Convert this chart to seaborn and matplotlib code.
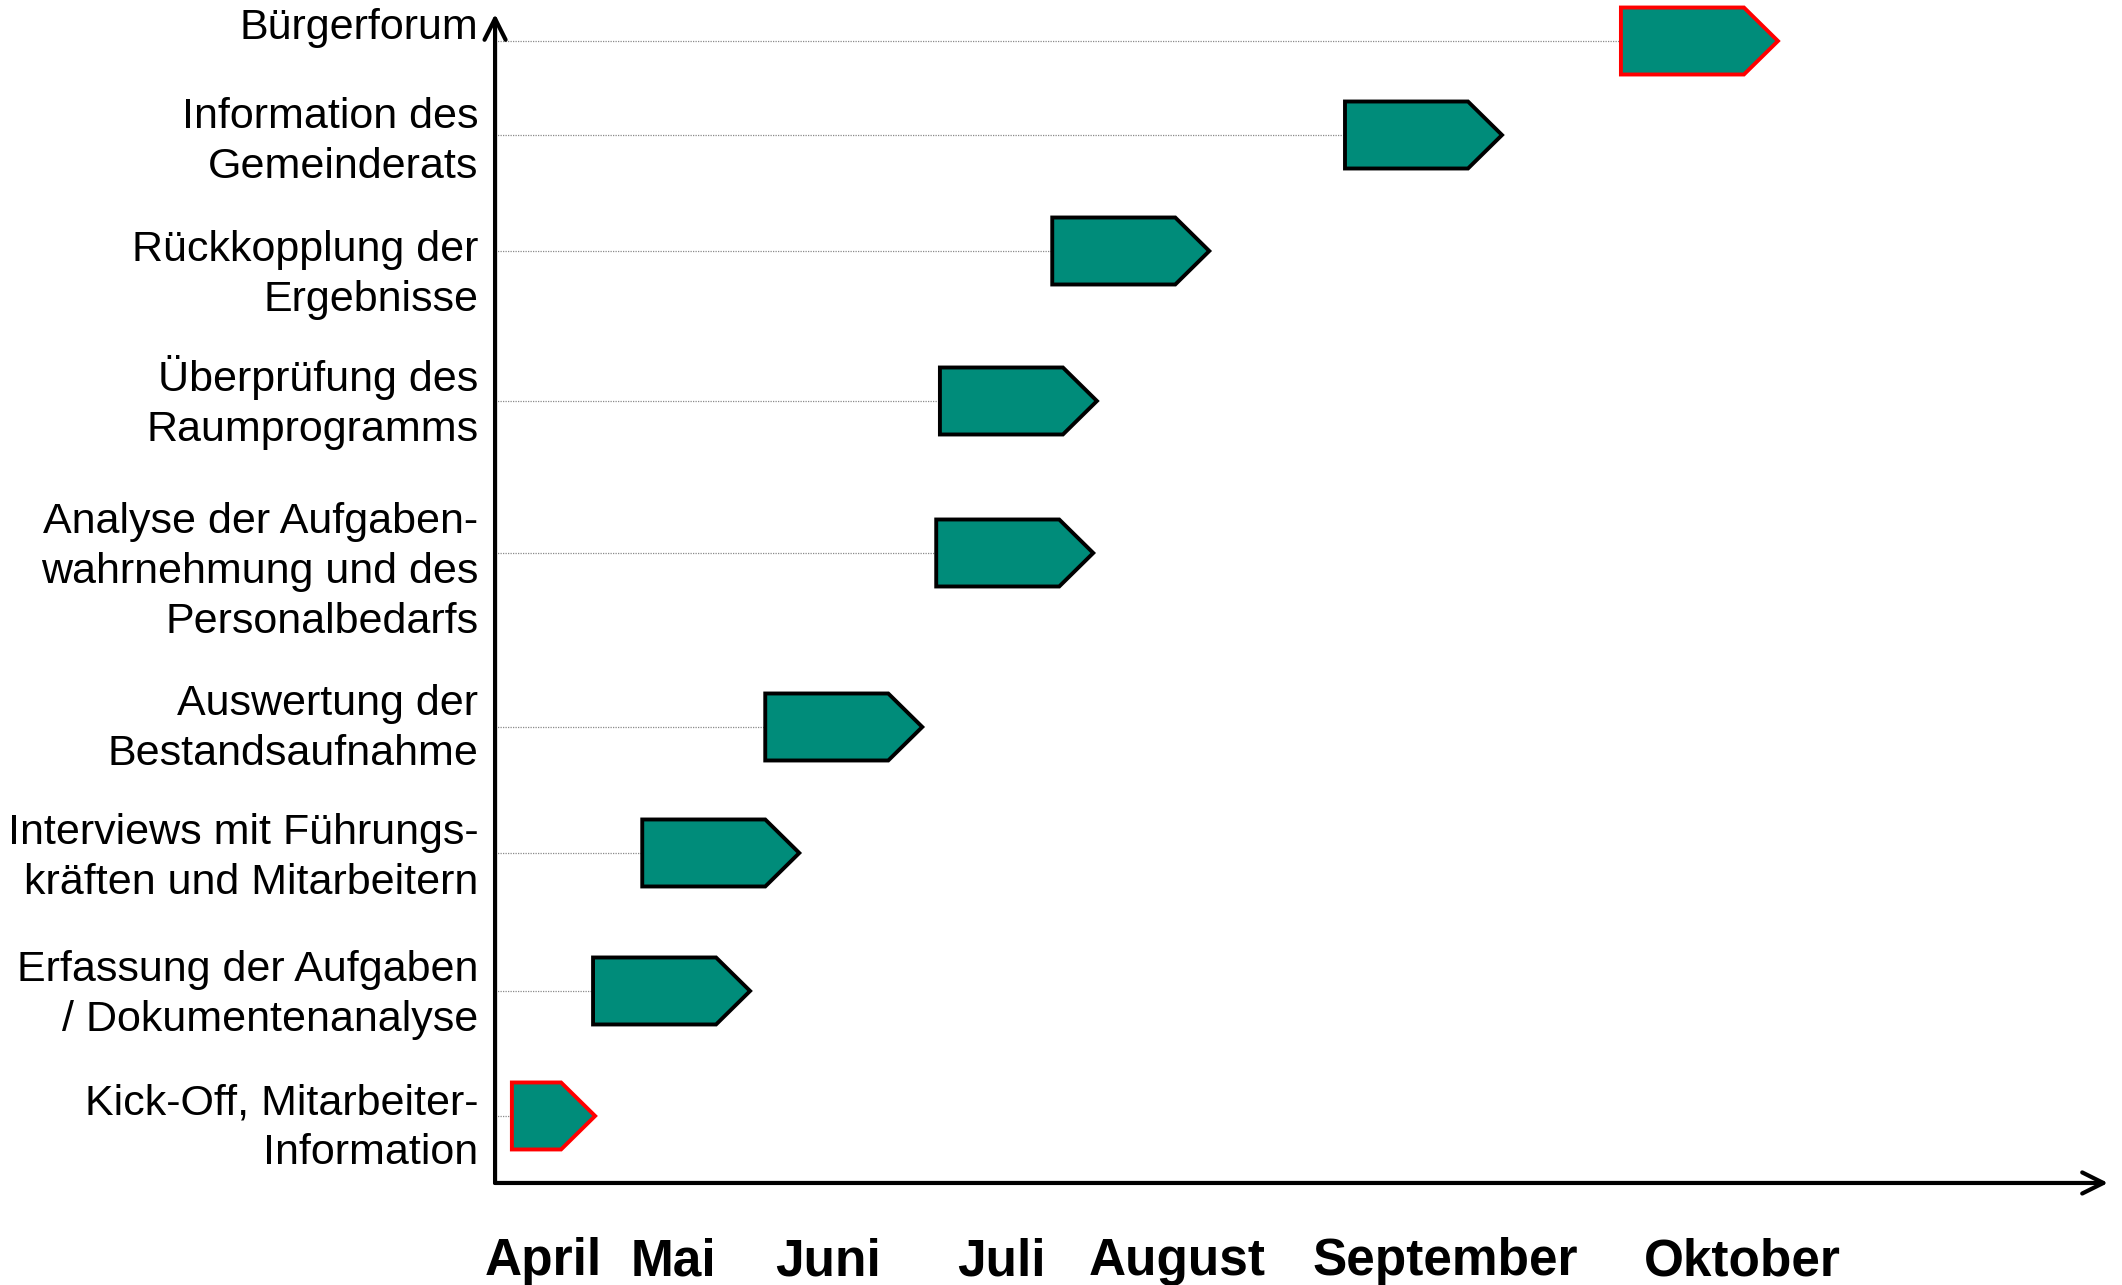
import matplotlib
matplotlib.use("Agg")
import matplotlib.pyplot as plt
import seaborn as sns
import numpy as np

# ---------------- data ----------------
tasks = [
    "Kick-Off, Mitarbeiter-\nInformation",
    "Erfassung der Aufgaben\n/ Dokumentenanalyse",
    "Interviews mit Führungs-\nkräften und Mitarbeitern",
    "Auswertung der\nBestandsaufnahme",
    "Analyse der Aufgaben-\nwahrnehmung und des\nPersonalbedarfs",
    "Überprüfung des\nRaumprogramms",
    "Rückkopplung der\nErgebnisse",
    "Information des\nGemeinderats",
    "Bürgerforum",
]
# start and duration in weeks after beginning of April
start_weeks = [0.41, 2.39, 3.59, 6.59, 10.76, 10.85, 13.59, 20.73, 27.46]
duration_weeks = [1.2, 3.0, 3.0, 3.0, 3.0, 3.0, 3.0, 3.0, 3.0]
# row position of each task on the vertical axis
row_pos = [0.67, 1.92, 3.30, 4.56, 6.30, 7.82, 9.32, 10.48, 11.42]
highlight = [True, False, False, False, False, False, False, False, True]

months = ["April", "Mai", "Juni", "Juli", "August", "September", "Oktober"]
month_pos = [1.17, 4.34, 8.12, 12.34, 16.63, 23.17, 30.41]

# ---------------- style ----------------
sns.set_theme(style="white")
plt.rcParams["font.family"] = ["Liberation Sans", "DejaVu Sans"]

fill_color = "#008c7a"
bar_height = 0.67
tip_len = 0.83
# small vertical nudges of the task labels (points, positive = down)
label_nudge = [8.9, 2.8, 3.9, 1.4, 13.8, 0.8, 17.3, 4.8, -9.5]

fig = plt.figure(figsize=(21.22, 12.85), dpi=100)
ax = fig.add_axes([0.2333, 0.0794, 0.7601, 0.9097])
ax.set_xlim(0, 39.34)
ax.set_ylim(0, 11.69)
for sp in ax.spines.values():
    sp.set_visible(False)
ax.grid(False)

# guide lines
ax.hlines(row_pos, 0, start_weeks, colors="#8a8a8a",
          linestyles=(0, (1, 1)), lw=0.9, zorder=1)

# arrow-shaped bars
for s, d, y, hl in zip(start_weeks, duration_weeks, row_pos, highlight):
    xs = [s, s + d, s + d + tip_len, s + d, s]
    ys = [y - bar_height / 2, y - bar_height / 2, y,
          y + bar_height / 2, y + bar_height / 2]
    ax.fill(xs, ys, facecolor=fill_color,
            edgecolor="#ff0000" if hl else "black",
            lw=2.8, joinstyle="miter", zorder=3, clip_on=False)

# axes as arrows
arrow_kw = dict(arrowstyle="->,head_length=0.4,head_width=0.2", lw=3,
                color="black", mutation_scale=38, shrinkA=0, shrinkB=0)
ax.annotate("", xy=(0, 1.0), xytext=(0, 0), xycoords="axes fraction",
            arrowprops=arrow_kw, annotation_clip=False)
ax.annotate("", xy=(1.0, 0), xytext=(0, 0), xycoords="axes fraction",
            arrowprops=arrow_kw, annotation_clip=False)

# task labels
ax.set_yticks([])
for lab, y, nd in zip(tasks, row_pos, label_nudge):
    ax.annotate(lab, xy=(0, y), xycoords=("axes fraction", "data"),
                xytext=(-12, -nd), textcoords="offset points",
                ha="right", va="center", multialignment="right",
                fontsize=31, linespacing=1.32, color="black",
                annotation_clip=False)

# month labels
ax.set_xticks(month_pos)
ax.set_xticklabels(months, fontsize=37, fontweight="bold", color="black")
ax.tick_params(axis="x", length=0, pad=39)

fig.savefig("out.png", dpi=100, facecolor="white")
